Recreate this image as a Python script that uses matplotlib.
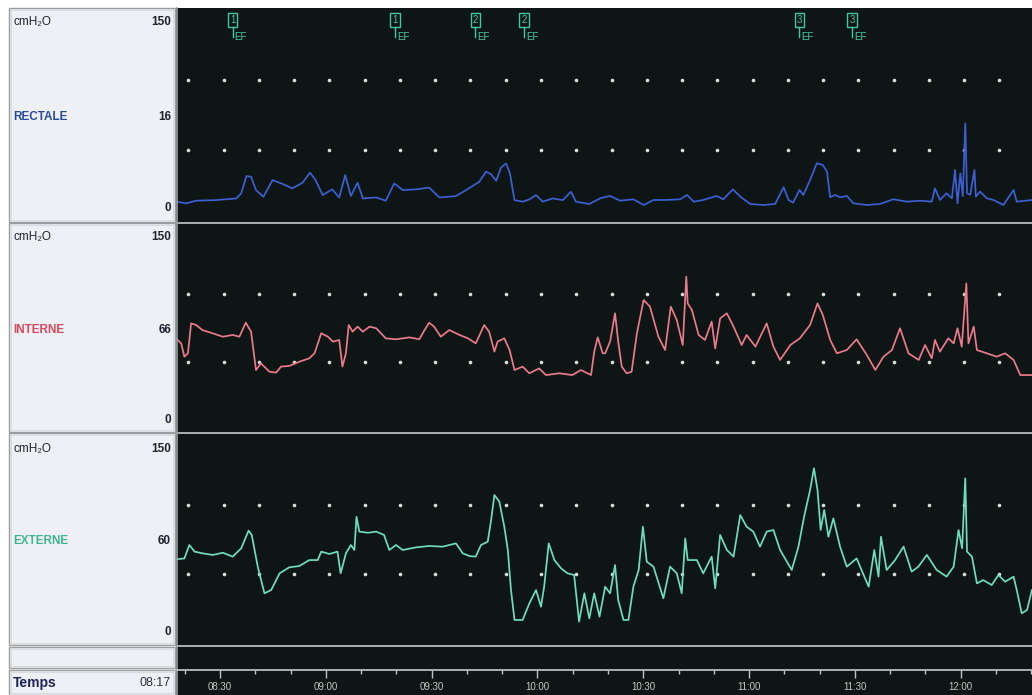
import matplotlib
matplotlib.use("Agg")
import matplotlib.pyplot as plt
from matplotlib.transforms import blended_transform_factory, offset_copy
from matplotlib.patches import Rectangle

plt.rcParams['font.family'] = ['Liberation Sans', 'DejaVu Sans']

# ---------------- data (time = minutes after 08:00, pressure in cmH2O) -------------
rectale_t = [17.5, 20.4, 23.2, 28.8, 34.6, 36.0, 37.5, 38.8, 40.2, 42.3, 44.9, 47.8, 50.5,
             53.4, 55.5, 57.0, 59.1, 61.8, 63.8, 65.5, 67.1, 69.0, 70.5, 74.3, 77.0, 79.4,
             81.8, 85.6, 89.3, 92.2, 96.9, 99.8, 103.5, 105.4, 106.8, 108.3, 109.7, 111.1,
             112.2, 113.5, 115.8, 117.7, 119.6, 121.5, 124.3, 127.2, 129.5, 130.9, 134.7,
             137.8, 140.6, 143.4, 147.2, 150.1, 152.9, 156.6, 160.5, 162.4, 164.3, 167.0,
             170.8, 172.7, 175.4, 177.5, 180.3, 184.1, 187.4, 189.8, 191.2, 192.5, 194.3,
             195.4, 197.3, 199.2, 200.9, 202.1, 203.0, 204.4, 205.8, 207.7, 209.6, 213.4,
             217.2, 220.9, 224.7, 228.5, 231.8, 232.7, 234.1, 236.0, 237.5, 238.4, 239.1,
             239.9, 240.6, 241.3, 241.8, 242.7, 243.9, 244.3, 245.5, 247.4, 249.3, 252.1,
             255.0, 255.9, 260.2]
rectale_v = [13.1, 11.9, 13.8, 14.2, 15.4, 19.0, 31.4, 30.9, 21.4, 16.6, 28.5, 25.7, 22.6,
             26.6, 33.8, 29.0, 17.8, 21.9, 16.1, 32.1, 17.1, 26.6, 15.4, 16.1, 13.8, 26.1,
             21.4, 21.9, 23.1, 16.1, 17.1, 21.4, 27.3, 34.5, 32.8, 28.0, 37.6, 40.4,
             33.3, 14.2, 13.1, 14.7, 17.8, 13.1, 15.4, 14.2, 20.2, 13.1, 11.4,
             15.5, 17.2, 13.8, 14.8, 10.7, 14.3, 14.3, 14.8, 17.9, 13.1, 14.3,
             17.2, 14.8, 21.9, 16.7, 11.5, 10.7, 11.5, 23.4, 14.3, 12.4, 21.5,
             17.9, 28.6, 40.5, 39.3, 34.5, 16.2, 17.9, 16.2, 17.2, 11.9, 10.7,
             11.5, 14.8, 13.1, 13.8, 13.1, 22.6, 14.3, 19.1, 15.5, 35.7, 11.9,
             33.3, 17.0, 69.1, 19.1, 18.0, 35.7, 16.7, 20.3, 15.5, 14.3, 10.7,
             21.5, 13.1, 14.3]

interne_t = [17.5, 19.0, 19.9, 20.9, 21.8, 23.2, 25.0, 27.9, 30.8, 33.6, 35.5, 37.3, 38.8,
             40.2, 41.6, 44.0, 45.9, 47.3, 49.6, 52.5, 55.3, 56.8, 58.7, 60.6, 62.0, 63.8,
             64.7, 65.7, 66.5, 67.6, 69.0, 70.5, 72.4, 74.3, 77.0, 79.9, 83.7, 86.5, 88.0,
             89.3, 90.7, 92.6, 95.0, 97.9, 100.3, 102.5, 104.9, 106.3, 107.8, 108.7, 110.6,
             112.1, 113.5, 115.8, 117.7, 120.5, 122.4, 126.2, 129.9, 132.3, 135.2, 136.1,
             137.1, 138.5, 139.2, 140.6, 142.0, 142.9, 143.9, 145.3, 146.7, 148.2, 150.1,
             151.9, 154.3, 156.2, 157.8, 159.5, 161.2, 162.2, 162.6, 163.8, 165.7, 167.5,
             169.4, 170.4, 171.8, 173.7, 175.6, 177.9, 179.3, 181.8, 185.0, 186.9, 188.8,
             191.7, 194.4, 197.3, 199.4, 200.9, 203.0, 204.9, 207.7, 210.5, 213.4, 215.8,
             218.1, 220.5, 222.8, 225.2, 228.1, 229.9, 231.8, 232.7, 234.1, 236.5, 238.0,
             239.1, 240.3, 241.6, 242.2, 243.7, 244.6, 247.4, 250.2, 252.6, 255.0, 256.9,
             260.2]
interne_v = [67.4, 63.7, 53.9, 56.4, 78.4, 77.2, 73.5, 71.1, 68.6, 69.9, 68.6, 78.9, 72.3,
             44.1, 49.0, 42.9, 42.2, 46.6, 47.1, 50.2, 52.7, 56.4, 71.1, 68.6, 65.0, 66.2,
             46.6, 56.4, 77.2, 72.3, 76.0, 72.3, 76.0, 74.8, 67.4, 66.7, 68.1, 66.7, 73.5,
             78.9, 76.0, 68.6, 73.5, 69.9, 67.4, 63.7, 77.2, 72.3, 57.6, 65.0, 67.4,
             58.8, 44.1, 46.6, 41.7, 45.3, 40.4, 41.7, 40.4, 44.1, 40.4, 57.6,
             68.1, 56.4, 56.4, 65.0, 85.8, 65.0, 46.6, 41.7, 42.9, 71.1, 95.6,
             90.7, 68.6, 58.8, 90.7, 80.9, 62.5, 112.7, 93.1, 88.2, 69.9, 66.2,
             79.7, 60.0, 82.1, 85.8, 76.0, 62.5, 69.9, 61.3, 78.4, 61.3, 51.5,
             62.5, 67.4, 77.2, 93.1, 84.6, 66.2, 56.4, 58.8, 66.7, 55.1, 44.1,
             53.9, 58.8, 74.8, 56.4, 51.5, 62.5, 52.7, 66.2, 57.6, 67.4, 63.7,
             74.8, 61.3, 107.8, 63.7, 76.0, 58.8, 56.4, 53.9, 56.4, 51.5, 40.4,
             40.4]

externe_t = [17.5, 19.9, 21.3, 22.8, 25.0, 27.9, 30.8, 33.6, 36.0, 38.1, 39.0, 40.7, 42.6,
             44.5, 46.9, 49.6, 52.5, 55.3, 57.7, 58.7, 61.0, 63.3, 64.2, 65.7, 67.1, 68.1,
             68.7, 69.5, 71.9, 74.3, 76.5, 78.0, 79.9, 81.8, 85.6, 89.3, 93.1, 96.9, 98.8,
             100.7, 102.5, 104.0, 105.9, 106.8, 107.8, 109.2, 110.6, 111.6, 112.5, 113.5,
             115.8, 117.7, 119.6, 121.0, 121.9, 123.2, 124.8, 126.7, 128.5, 130.4, 131.8,
             133.3, 134.7, 136.1, 137.6, 139.2, 140.6, 142.0, 142.9, 144.4, 145.8, 147.2,
             148.7, 149.9, 151.0, 152.9, 155.7, 157.6, 159.5, 160.9, 161.9, 162.6, 165.2,
             167.0, 169.4, 170.4, 171.8, 173.7, 175.6, 177.5, 179.3, 181.2, 183.1, 185.0,
             186.9, 188.8, 192.1, 194.0, 195.6, 197.3, 198.4, 199.4, 200.3, 201.3, 202.5,
             203.9, 205.8, 207.7, 210.5, 213.9, 215.5, 216.7, 217.4, 219.0, 221.4, 223.8,
             226.1, 228.0, 230.4, 233.2, 236.0, 238.0, 239.4, 240.4, 241.3, 241.8, 243.2,
             244.6, 246.4, 248.8, 250.7, 252.6, 255.0, 255.9, 257.3, 258.8, 260.2]
externe_v = [60.6, 61.3, 71.0, 66.2, 65.0, 63.8, 65.4, 62.6, 68.6, 81.4, 78.3, 55.3, 36.0,
             38.4, 50.5, 54.8, 55.8, 60.1, 60.1, 66.2, 64.5, 66.2, 50.5, 65.0, 71.0, 67.4,
             91.5, 80.7, 79.9, 80.7, 78.3, 67.4, 71.0, 67.4, 69.3, 70.3, 69.8, 72.2, 65.0,
             63.0, 62.6, 71.0, 73.4, 87.9, 107.2, 102.4, 84.3, 67.4, 38.4, 16.7,
             16.7, 28.7, 38.4, 26.3, 40.8, 72.2, 60.1, 54.1, 50.5, 49.3, 15.5,
             36.0, 17.9, 36.0, 19.1, 40.8, 36.0, 56.5, 31.1, 16.7, 16.7, 40.8,
             52.9, 84.3, 58.9, 55.3, 32.4, 55.3, 50.5, 36.0, 75.8, 60.1, 60.1,
             50.5, 62.6, 39.6, 78.3, 67.4, 62.6, 92.7, 84.3, 80.7, 69.8, 80.7,
             81.9, 67.4, 52.9, 69.8, 91.5, 110.9, 126.6, 110.9, 81.9, 96.4, 77.0,
             90.3, 69.8, 55.3, 61.3, 40.8, 67.4, 48.1, 77.0, 52.9, 60.1, 69.8,
             51.7, 55.3, 63.8, 52.9, 48.1, 55.3, 81.9, 68.6, 119.3, 66.2, 62.6,
             43.2, 45.6, 42.0, 49.3, 44.4, 48.1, 38.4, 21.5, 23.9, 38.4]

event_t = [33.6, 79.6, 102.4, 116.2, 194.2, 209.2]
event_labels = ["1", "1", "2", "2", "3", "3"]

channel_names = ["RECTALE", "INTERNE", "EXTERNE"]
channel_current = ["16", "66", "60"]
channel_top = ["150", "150", "150"]
channel_bottom = ["0", "0", "0"]
unit_label = "cmH₂O"
start_label = "08:17"
time_title = "Temps"

# ---------------- style / layout ----------------
W, H = 1032, 695
BG = "#0d1615"
PANEL_BG = "#eef0f5"
trace_colors = ["#3d5fd2", "#ea7a8c", "#6fdcbc"]
name_colors = ["#2a4a9e", "#d24a5c", "#3fb58e"]
MARK = "#45c8a2"
T0, T1 = 17.52, 260.22
VMAX = 150.0

fig = plt.figure(figsize=(W / 100, H / 100), dpi=100)
fig.patch.set_facecolor("white")


def px_axes(x0, y0, x1, y1, **kw):
    return fig.add_axes([x0 / W, 1 - y1 / H, (x1 - x0) / W, (y1 - y0) / H], **kw)


# dark background of the recording area
bgax = px_axes(176, 8, W, H)
bgax.set_facecolor(BG)
bgax.set_xticks([]); bgax.set_yticks([])
for s in bgax.spines.values():
    s.set_visible(False)

# left label panel
lax = px_axes(0, 0, 176, H)
lax.set_xlim(0, 176); lax.set_ylim(H, 0)
lax.axis("off")
sections = [(8, 222), (223, 432), (433, 645), (647, 668), (670, 695)]
for (y0, y1) in sections:
    lax.add_patch(Rectangle((9, y0), 166, y1 - y0, facecolor=PANEL_BG, edgecolor="#9a9ca0", lw=1.0))
    lax.add_patch(Rectangle((11, y0 + 2), 162, y1 - y0 - 4, facecolor="none", edgecolor="#d4d6da", lw=0.6))

# (panel top px, panel bottom px, px of 150, px of 0)
panels = [(8, 222, 10, 220), (223, 432, 226, 430), (433, 645, 436, 643)]
label_rows = [(22, 117, 208), (237, 330, 420), (449, 541, 632)]

ticks_minor = list(range(20, 261, 10))
ticks_major = list(range(30, 241, 30))
dot_t = [t + 1 for t in ticks_minor if t + 1 < T1]

series = [(rectale_t, rectale_v), (interne_t, interne_v), (externe_t, externe_v)]
axes = []
for i, ((ptop, pbot, p150, p0), (tt, vv)) in enumerate(zip(panels, series)):
    ax = px_axes(176, ptop, W, pbot)
    ax.patch.set_alpha(0)
    scale = (p0 - p150) / VMAX
    ax.set_ylim(-(pbot - p0) / scale, VMAX + (p150 - ptop) / scale)
    ax.set_xlim(T0, T1)
    ax.axis("off")
    # dotted reference grid
    for lvl in (50, 100):
        ax.plot(dot_t, [lvl] * len(dot_t), ls="none",
                marker="o", ms=1.6, color="#d8dcd8", zorder=1)
    ax.plot(tt, vv, color=trace_colors[i], lw=1.25, zorder=3, solid_joinstyle="round")
    axes.append(ax)

    ya, yb, yc = label_rows[i]
    lax.text(13, ya, unit_label, fontsize=8.5, color="#202430", va="center", ha="left")
    lax.text(171, ya, channel_top[i], fontsize=8.5, color="#202430", va="center", ha="right",
             fontweight="bold")
    lax.text(13, yb, channel_names[i], fontsize=8.5, color=name_colors[i], va="center",
             ha="left", fontweight="bold")
    lax.text(171, yb, channel_current[i], fontsize=8.5, color="#202430", va="center",
             ha="right", fontweight="bold")
    lax.text(171, yc, channel_bottom[i], fontsize=8.5, color="#202430", va="center",
             ha="right", fontweight="bold")

lax.text(13, 683, time_title, fontsize=10, color="#1c2458", va="center", ha="left",
         fontweight="bold")
lax.text(171, 683, start_label, fontsize=9, color="#303040", va="center", ha="right")

# separator lines across the dark area
sep = px_axes(176, 0, W, H)
sep.patch.set_alpha(0)
sep.set_xlim(176, W); sep.set_ylim(H, 0)
sep.axis("off")
for y in (222.5, 432.5, 645.5):
    sep.plot([176, W], [y, y], color="#b8bcbc", lw=1.3)
sep.plot([177, 177], [8, H], color="#9aa0a0", lw=1.2)

# event markers in the top panel
axt = axes[0]
tr = blended_transform_factory(axt.transData, axt.transAxes)
ptop, pbot = panels[0][0], panels[0][1]
frac = lambda y: (pbot - y) / (pbot - ptop)
for t, lab in zip(event_t, event_labels):
    axt.text(t, frac(20), lab, transform=tr, ha="center", va="center", fontsize=7,
             color=MARK, bbox=dict(boxstyle="square,pad=0.2", fc="none", ec=MARK, lw=1.0))
    axt.plot([t, t], [frac(27), frac(37)], transform=tr, color=MARK, lw=1.0)
    axt.text(t, frac(37), "EF", transform=offset_copy(tr, fig=fig, x=2, y=0, units="dots"),
             ha="left", va="center", fontsize=7, color=MARK)

# time axis
tax = px_axes(176, 670, W, H)
tax.patch.set_alpha(0)
tax.set_xlim(T0, T1)
tax.set_ylim(0, 1)
for s in tax.spines.values():
    s.set_visible(False)
tax.spines["top"].set_visible(True)
tax.spines["top"].set_color("#b8bcbc")
tax.spines["top"].set_linewidth(1.3)
tax.xaxis.set_ticks_position("top")
tax.set_xticks(ticks_major)
tax.set_xticks([t for t in ticks_minor if t not in ticks_major and t < T1], minor=True)
tax.tick_params(axis="x", which="major", direction="in", length=6, width=1.0,
                color="#c0c4c4", labeltop=False, labelbottom=False)
tax.tick_params(axis="x", which="minor", direction="in", length=3, width=1.0,
                color="#c0c4c4")
tax.set_yticks([])
for t in ticks_major:
    h, m = divmod(int(t) + 8 * 60, 60)
    tax.text(t, 0.32, f"{h:02d}:{m:02d}", ha="center", va="center", fontsize=7,
             color="#c4c8c6")

fig.savefig("out.png", dpi=100, facecolor="white")
